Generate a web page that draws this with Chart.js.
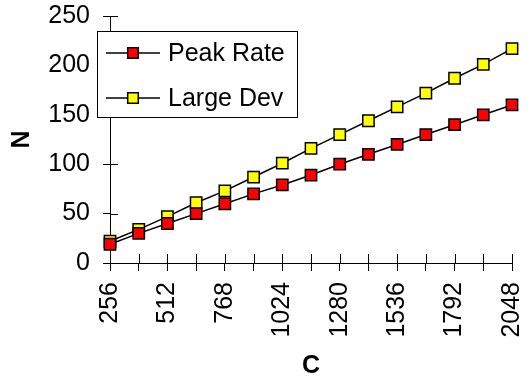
<!DOCTYPE html>
<html>
<head>
<meta charset="utf-8">
<script src="https://cdn.jsdelivr.net/npm/chart.js@4/dist/chart.umd.min.js"></script>
<style>
  html, body { margin: 0; padding: 0; background: #fff; }
  #wrap { width: 528px; height: 379px; position: relative; }
</style>
</head>
<body>
<div id="wrap"><canvas id="c"></canvas></div>
<script>
// Buffer sizes C and the number of sources N admitted under each rule
const categories = [256, 384, 512, 640, 768, 896, 1024, 1152, 1280, 1408, 1536, 1664, 1792, 1920, 2048];
const peakRate = [19, 30, 40, 50, 60, 70, 79, 89, 100, 110, 120, 130, 140, 150, 160];
const largeDev = [22, 34, 47, 61, 73, 87, 101, 116, 130, 144, 158, 172, 187, 201, 217];
const seriesNames = ['Peak Rate', 'Large Dev'];
const yTicks = [0, 50, 100, 150, 200, 250];

const FONT = "'Liberation Sans', Arial, sans-serif";

// Tick marks that cross the axis line (inner half; Chart.js draws the outer half)
const crossTicks = {
  id: 'crossTicks',
  afterDatasetsDraw(chart) {
    const { ctx, scales: { x, y } } = chart;
    ctx.save();
    ctx.strokeStyle = '#000';
    ctx.lineWidth = 1;
    ctx.beginPath();
    x.ticks.forEach((t, i) => {
      const px = Math.round(x.getPixelForTick(i)) + 0.5;
      ctx.moveTo(px, y.bottom);
      ctx.lineTo(px, y.bottom - 9);
    });
    y.ticks.forEach((t, i) => {
      const py = Math.round(y.getPixelForTick(i)) + 0.5;
      ctx.moveTo(x.left, py);
      ctx.lineTo(x.left + 8, py);
    });
    ctx.stroke();
    ctx.restore();
  }
};

// Boxed legend placed inside the plot area, top-left
const boxLegend = {
  id: 'boxLegend',
  afterDraw(chart) {
    const { ctx } = chart;
    const box = { x: 97.5, y: 31.5, w: 200, h: 86 };
    ctx.save();
    ctx.fillStyle = '#fff';
    ctx.fillRect(box.x, box.y, box.w, box.h);
    ctx.strokeStyle = '#000';
    ctx.lineWidth = 1;
    ctx.strokeRect(box.x, box.y, box.w, box.h);
    chart.data.datasets.forEach((ds, i) => {
      const cy = 53 + i * 45;
      ctx.strokeStyle = '#000';
      ctx.lineWidth = 1.5;
      ctx.beginPath();
      ctx.moveTo(106, cy);
      ctx.lineTo(160, cy);
      ctx.stroke();
      ctx.fillStyle = ds.pointBackgroundColor;
      ctx.strokeStyle = '#000';
      ctx.lineWidth = 1.5;
      Chart.helpers.drawPoint(ctx, { pointStyle: 'rect', rotation: 0, radius: 7.5, borderWidth: 1.5 }, 133, cy);
      ctx.fillStyle = '#000';
      ctx.font = '25px ' + FONT;
      ctx.textBaseline = 'middle';
      ctx.textAlign = 'left';
      ctx.fillText(ds.label, 168, cy + 1);
    });
    ctx.restore();
  }
};

const ds = (label, data, color) => ({
  label,
  data,
  borderColor: '#000',
  borderWidth: 1.5,
  pointStyle: 'rect',
  pointRadius: 8,
  pointHoverRadius: 8,
  pointBackgroundColor: color,
  pointBorderColor: '#000',
  pointBorderWidth: 1.5,
  tension: 0,
  fill: false
});

// Fixed scale sizes; label overflow is covered by the layout padding instead
const fixSize = (prop, val) => (s) => {
  s[prop] = val;
  s.paddingTop = 0; s.paddingBottom = 0; s.paddingLeft = 0; s.paddingRight = 0;
};

new Chart(document.getElementById('c'), {
  type: 'line',
  data: {
    labels: categories,
    datasets: [
      ds(seriesNames[0], peakRate, '#ff0000'),
      ds(seriesNames[1], largeDev, '#ffff00')
    ]
  },
  options: {
    responsive: true,
    maintainAspectRatio: false,
    animation: false,
    devicePixelRatio: 1,
    layout: { padding: { left: 0, right: 16, top: 16, bottom: 0 } },
    plugins: {
      legend: { display: false },
      tooltip: { enabled: false }
    },
    scales: {
      x: {
        type: 'category',
        offset: false,
        grid: { display: true, drawOnChartArea: false, drawTicks: true, tickLength: 8, color: '#000', lineWidth: 1 },
        border: { display: true, color: '#000', width: 1 },
        ticks: {
          autoSkip: false,
          maxRotation: 90,
          minRotation: 90,
          padding: 11,
          color: '#000',
          font: { family: FONT, size: 25 },
          callback: (v, i) => (i % 2 === 0 ? String(categories[i]) : '')
        },
        title: { display: true, text: 'C', color: '#000', font: { family: FONT, size: 25, weight: 'bold', lineHeight: 1 }, padding: { top: 0, bottom: 0 } },
        afterFit: fixSize('height', 116)
      },
      y: {
        min: 0,
        max: 250,
        afterBuildTicks: (s) => { s.ticks = yTicks.map(v => ({ value: v })); },
        grid: { display: true, drawOnChartArea: false, drawTicks: true, tickLength: 7, color: '#000', lineWidth: 1 },
        border: { display: true, color: '#000', width: 1 },
        ticks: { padding: 13, color: '#000', font: { family: FONT, size: 25 } },
        title: { display: true, text: 'N', color: '#000', font: { family: FONT, size: 25, weight: 'bold' }, padding: { top: 7, bottom: 0 } },
        afterFit: fixSize('width', 110)
      }
    }
  },
  plugins: [crossTicks, boxLegend]
});
</script>
</body>
</html>
